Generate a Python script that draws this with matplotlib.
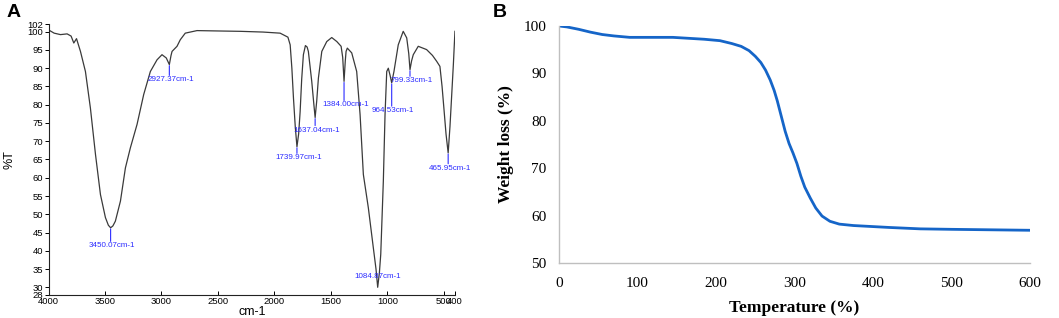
import matplotlib
matplotlib.use("Agg")
import matplotlib.pyplot as plt

# ---- Panel A: FTIR spectrum (wavenumber cm-1, %T) ----
ir_wn = [4000, 3950, 3894, 3835, 3800, 3776, 3752, 3717, 3673, 3629, 3584, 3540,
         3496, 3470, 3450, 3430, 3408, 3363, 3319, 3275, 3216, 3157, 3098, 3039,
         2995, 2957, 2930, 2915, 2906, 2862, 2833, 2789, 2685, 2500, 2302, 2100,
         1949, 1880, 1860, 1845, 1831, 1815, 1800, 1785, 1772, 1758, 1743, 1725,
         1710, 1699, 1669, 1650, 1639, 1625, 1610, 1580, 1536, 1492, 1447, 1409,
         1395, 1383, 1372, 1365, 1354, 1315, 1271, 1241, 1212, 1168, 1124, 1100,
         1085, 1070, 1058, 1035, 1020, 1005, 991, 975, 961, 941, 903, 859, 828,
         810, 799, 785, 770, 726, 652, 600, 563, 534, 515, 499, 480, 461, 445,
         431, 415, 401]
ir_t = [100.5, 99.6, 99.2, 99.4, 98.8, 96.9, 98.1, 94.6, 89.1, 79.1, 66.4, 55.4,
        49.1, 47.0, 46.3, 46.8, 48.1, 53.6, 62.7, 68.2, 74.6, 82.8, 89.1, 92.3,
        93.7, 92.8, 91.0, 93.5, 94.6, 96.0, 97.8, 99.6, 100.3, 100.2, 100.1, 99.9,
        99.6, 98.5, 96.4, 90.0, 81.9, 74.0, 68.5, 72.0, 78.0, 87.0, 93.7, 96.2,
        95.8, 94.6, 86.4, 80.0, 76.5, 81.0, 87.3, 94.6, 97.3, 98.4, 97.3, 96.0,
        93.0, 86.4, 92.0, 94.6, 95.5, 94.2, 89.1, 77.3, 60.9, 51.8, 40.9, 35.0,
        30.0, 34.0, 39.0, 59.1, 77.3, 89.1, 90.0, 88.0, 86.0, 89.1, 96.4, 100.1, 98.3,
        94.0, 89.6, 92.0, 93.7, 96.0, 95.1, 93.5, 91.9, 90.5, 85.0, 79.1, 72.0, 66.8, 74.0,
        81.9, 91.0, 100.1]

peak_wn = [3450, 2930, 1800, 1639, 1383, 1085, 961, 799, 461]
peak_t = [46.3, 91.0, 68.5, 76.5, 86.4, 30.0, 86.0, 89.6, 66.8]
peak_labels = ["3450.07cm-1", "2927.37cm-1", "1739.97cm-1", "1637.04cm-1",
               "1384.00cm-1", "1084.87cm-1", "964.53cm-1", "799.33cm-1",
               "465.95cm-1"]
# marker line length below each peak (points); None = label sits above the dip
peak_stick = [9, 7, 4, 5, 13, None, 16, 4, 7]

a_xticks = [4000, 3500, 3000, 2500, 2000, 1500, 1000, 500, 400]
a_yticks = [28, 30, 35, 40, 45, 50, 55, 60, 65, 70, 75, 80, 85, 90, 95, 100, 102]

# ---- Panel B: TGA ----
tga_temp = [0, 10, 25, 40, 55, 70, 90, 145, 185, 205, 220, 232, 242, 250, 257,
            263, 269, 274, 278, 283, 288, 293, 298, 303, 308, 313, 320, 327,
            335, 345, 357, 375, 420, 460, 500, 550, 600]
tga_wt = [100, 99.8, 99.3, 98.7, 98.2, 97.9, 97.6, 97.6, 97.2, 96.9, 96.3, 95.7,
          94.8, 93.6, 92.3, 90.7, 88.6, 86.4, 84.2, 81.0, 77.8, 75.2, 73.2, 71.0,
          68.3, 66.0, 63.7, 61.6, 59.9, 58.8, 58.2, 57.9, 57.5, 57.2, 57.1, 57.0,
          56.9]

fig = plt.figure(figsize=(10.59, 3.18), dpi=100)
fig.patch.set_facecolor("white")

SANS = "Liberation Sans"
SERIF = "Liberation Serif"
BLUE = "#2b2bff"

# Panel A
ax = fig.add_axes([0.0458, 0.0736, 0.3839, 0.8497])
ax.plot(ir_wn, ir_t, color="#3a3a3a", linewidth=0.9)
ax.set_xlim(4000, 400)
ax.set_ylim(28, 102)
ax.set_xticks(a_xticks)
ax.set_yticks(a_yticks)
for s in ("top", "right"):
    ax.spines[s].set_visible(False)
for s in ("left", "bottom"):
    ax.spines[s].set_color("#222222")
    ax.spines[s].set_linewidth(0.8)
ax.tick_params(axis="y", direction="out", length=3, width=0.7, pad=1,
               labelsize=6.8)
ax.tick_params(axis="x", direction="in", length=3, width=0.7, pad=2,
               labelsize=6.8)
for lbl in ax.get_xticklabels() + ax.get_yticklabels():
    lbl.set_family(SANS)
ax.set_xlabel("cm-1", family=SANS, fontsize=9, labelpad=0)
ax.set_ylabel("%T", family=SANS, fontsize=9, labelpad=8)

for x, y, txt, stick in zip(peak_wn, peak_t, peak_labels, peak_stick):
    if stick is None:
        ax.annotate(txt, (x, y), xytext=(0, 8), textcoords="offset points",
                    ha="center", va="center", fontsize=5.8, color=BLUE,
                    family=SANS)
        continue
    ax.annotate("", (x, y - 0.3), xytext=(0, -stick),
                textcoords="offset points",
                arrowprops=dict(arrowstyle="-", color=BLUE, lw=0.8,
                                shrinkA=0, shrinkB=0))
    ax.annotate(txt, (x, y), xytext=(1, -stick - 4),
                textcoords="offset points", ha="center", va="center",
                fontsize=5.8, color=BLUE, family=SANS)

fig.text(0.013, 0.962, "A", family=SANS, fontsize=14, fontweight="bold",
         ha="center", va="center")

# Panel B
bx = fig.add_axes([0.5279, 0.1730, 0.4448, 0.7453])
bx.plot(tga_temp, tga_wt, color="#1565C8", linewidth=2.0)
bx.set_xlim(0, 600)
bx.set_ylim(50, 100)
bx.set_xticks([0, 100, 200, 300, 400, 500, 600])
bx.set_yticks([50, 60, 70, 80, 90, 100])
for s in ("top", "right"):
    bx.spines[s].set_visible(False)
for s in ("left", "bottom"):
    bx.spines[s].set_color("#bfbfbf")
    bx.spines[s].set_linewidth(1.0)
bx.tick_params(length=0, labelsize=11, pad=9)
bx.tick_params(axis="x", pad=10)
for lbl in bx.get_xticklabels() + bx.get_yticklabels():
    lbl.set_family(SERIF)
bx.set_xlabel("Temperature (%)", family=SERIF, fontsize=12.5,
              fontweight="bold", labelpad=7)
bx.set_ylabel("Weight loss (%)", family=SERIF, fontsize=12.5,
              fontweight="bold", labelpad=7)

fig.text(0.472, 0.962, "B", family=SANS, fontsize=14, fontweight="bold",
         ha="center", va="center")

fig.savefig("out.png", dpi=100, facecolor="white")
